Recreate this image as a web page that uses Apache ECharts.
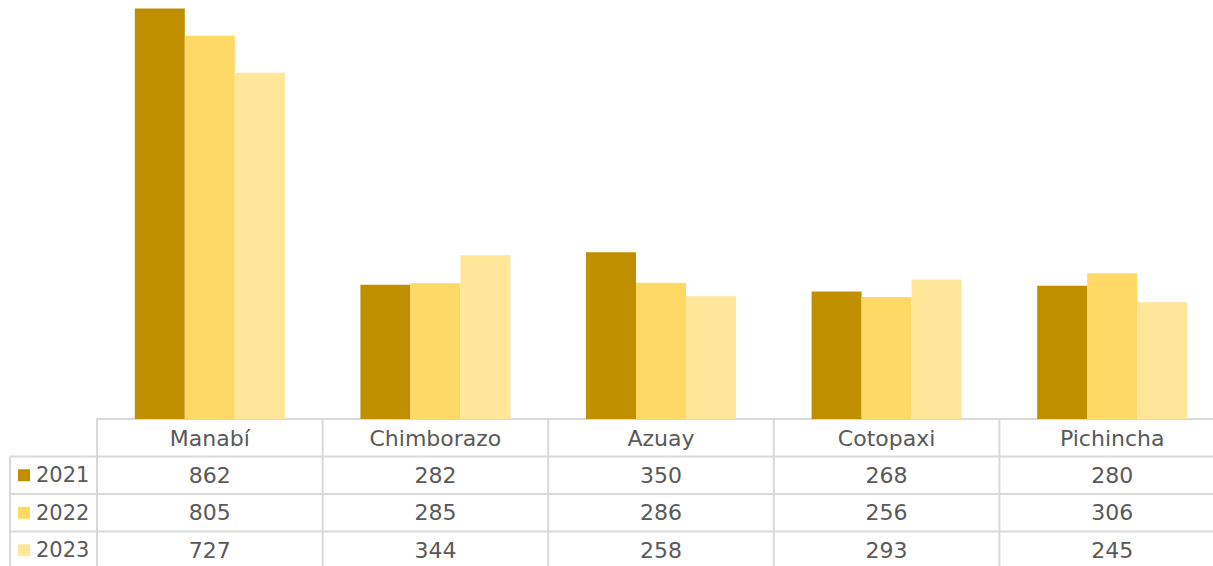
<!DOCTYPE html>
<html>
<head>
<meta charset="utf-8">
<script src="https://cdn.jsdelivr.net/npm/echarts@6/dist/echarts.min.js"></script>
<style>
  html, body { margin: 0; padding: 0; background: #fff; }
  #chart { width: 1213px; height: 566px; }
</style>
</head>
<body>
<div id="chart"></div>
<script>
const categories = ['Manabí', 'Chimborazo', 'Azuay', 'Cotopaxi', 'Pichincha'];
const years = ['2021', '2022', '2023'];
const v2021 = [862, 282, 350, 268, 280];
const v2022 = [805, 285, 286, 256, 306];
const v2023 = [727, 344, 258, 293, 245];
const seriesValues = [v2021, v2022, v2023];
const colors = ['#BF8F00', '#FFD966', '#FFE699'];

const FONT = '"Century Gothic", "DejaVu Sans", sans-serif';
const TEXT_COLOR = '#595959';
const LINE_COLOR = '#D9D9D9';
const ROW_H = 37.5;

const chart = echarts.init(document.getElementById('chart'), null, { renderer: 'svg' });

chart.setOption({
  animation: false,
  // the last column runs past the right edge of the canvas
  grid: { left: 97, width: 1128, top: 0, bottom: 147, containLabel: false, outerBoundsMode: 'none' },
  xAxis: {
    type: 'category',
    data: categories,
    axisLine: { show: true, lineStyle: { color: LINE_COLOR, width: 2 } },
    axisTick: { show: false },
    axisLabel: { color: TEXT_COLOR, fontSize: 22, fontFamily: FONT, margin: 8 }
  },
  yAxis: { type: 'value', min: 0, max: 880, show: false, splitLine: { show: false } },
  series: years.map((y, i) => ({
    name: y,
    type: 'bar',
    data: seriesValues[i],
    barWidth: 50,
    barGap: '0%',
    itemStyle: { color: colors[i] }
  }))
});

// Data table below the plot: row headers with colour keys and one value per category
function drawTable() {
  const x0 = chart.convertToPixel({ xAxisIndex: 0 }, 0);
  const x1 = chart.convertToPixel({ xAxisIndex: 0 }, 1);
  const band = x1 - x0;
  const base = chart.convertToPixel({ yAxisIndex: 0 }, 0);
  const left = x0 - band / 2;
  const right = x0 + band * (categories.length - 0.5);
  const tableLeft = 10;
  const els = [];
  const line = (xa, ya, xb, yb) => els.push({
    type: 'line', silent: true,
    shape: { x1: xa, y1: ya, x2: xb, y2: yb },
    style: { stroke: LINE_COLOR, lineWidth: 2 }
  });
  // column borders
  for (let c = 0; c <= categories.length; c++) {
    line(left + band * c, base, left + band * c, base + ROW_H * 5);
  }
  line(tableLeft, base + ROW_H, tableLeft, base + ROW_H * 5);
  // row borders
  for (let r = 1; r <= years.length + 1; r++) {
    line(tableLeft, base + ROW_H * r, right, base + ROW_H * r);
  }
  years.forEach((y, r) => {
    const cy = base + ROW_H * (r + 1) + ROW_H / 2;
    els.push({
      type: 'rect', silent: true,
      shape: { x: 18, y: cy - 6, width: 12, height: 12 },
      style: { fill: colors[r] }
    });
    els.push({
      type: 'text', silent: true, x: 36, y: cy,
      style: { text: y, fill: TEXT_COLOR, font: '21px ' + FONT, textVerticalAlign: 'middle', verticalAlign: 'middle' }
    });
    seriesValues[r].forEach((v, c) => {
      const cx = chart.convertToPixel({ xAxisIndex: 0 }, c);
      els.push({
        type: 'text', silent: true, x: cx, y: cy,
        style: { text: String(v), fill: TEXT_COLOR, font: '22px ' + FONT, align: 'center', textAlign: 'center', verticalAlign: 'middle', textVerticalAlign: 'middle' }
      });
    });
  });
  chart.setOption({ graphic: { elements: els } });
}
drawTable();
</script>
</body>
</html>
